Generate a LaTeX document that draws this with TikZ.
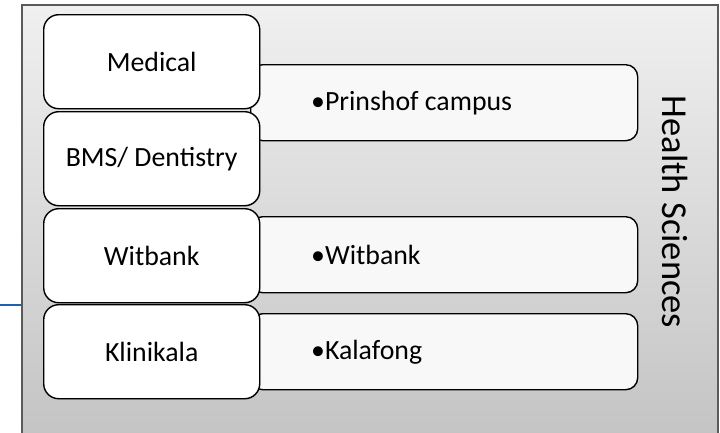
\documentclass[tikz,border=0pt]{standalone}
\usepackage{fontspec}
\setmainfont{Carlito}
\usetikzlibrary{shadows}
\definecolor{bgtop}{HTML}{F0F0F0}
\definecolor{bgbot}{HTML}{C3C3C3}
\definecolor{outline}{HTML}{5A5A5A}
\definecolor{linkblue}{HTML}{1F5FB4}
\definecolor{rfill}{HTML}{F8F8F8}
\tikzset{
  outerbox/.style={draw=outline, line width=1.6pt, top color=bgtop, bottom color=bgbot,
    rectangle, inner sep=0pt, anchor=north west},
  leftbox/.style={draw=black, line width=1.4pt, fill=white, rounded corners=15pt,
    minimum width=216pt, minimum height=94pt, inner sep=0pt, anchor=north west,
    font=\fontsize{27.8}{32}\selectfont,
    drop shadow={shadow xshift=0.8pt, shadow yshift=-0.8pt, opacity=0.35}},
  rightbox/.style={draw=black, line width=1.4pt, fill=rfill, rounded corners=12pt,
    minimum width=387pt, minimum height=76pt, inner sep=0pt, anchor=north west},
  rtext/.style={anchor=west, inner sep=0pt, font=\fontsize{27.8}{32}\selectfont},
}
\begin{document}
\begin{tikzpicture}[x=1pt,y=-1pt]
\useasboundingbox (0,0) rectangle (720,432);
\node[outerbox, minimum width=696pt, minimum height=440pt] (outer) at (21,4) {};
% right boxes (behind)
\node[rightbox] (rb1) at (250,64) {};
\node[rightbox] (rb2) at (250,216) {};
\node[rightbox] (rb3) at (250,313) {};
\node[rtext] (t1) at (311,103) {•Prinshof campus};
\node[rtext] (t2) at (311,255) {•Witbank};
\node[rtext] (t3) at (311,352) {•Kalafong};
% left boxes
\node[leftbox] (lb1) at (43,14) {Medical};
\node[leftbox] (lb2) at (43,111) {BMS/ Dentistry};
\node[leftbox] (lb3) at (43,208) {Witbank};
\node[leftbox] (lb4) at (43,304) {Klinikala};
% vertical title
\node[rotate=-90, inner sep=0pt, font=\fontsize{36.5}{40}\selectfont] (hs) at (675,212) {Health Sciences};
% blue connector
\coordinate (lstart) at (0,305);
\draw[linkblue, line width=1.6pt] (lstart) -- (lstart -| outer.west);
\end{tikzpicture}
\end{document}
